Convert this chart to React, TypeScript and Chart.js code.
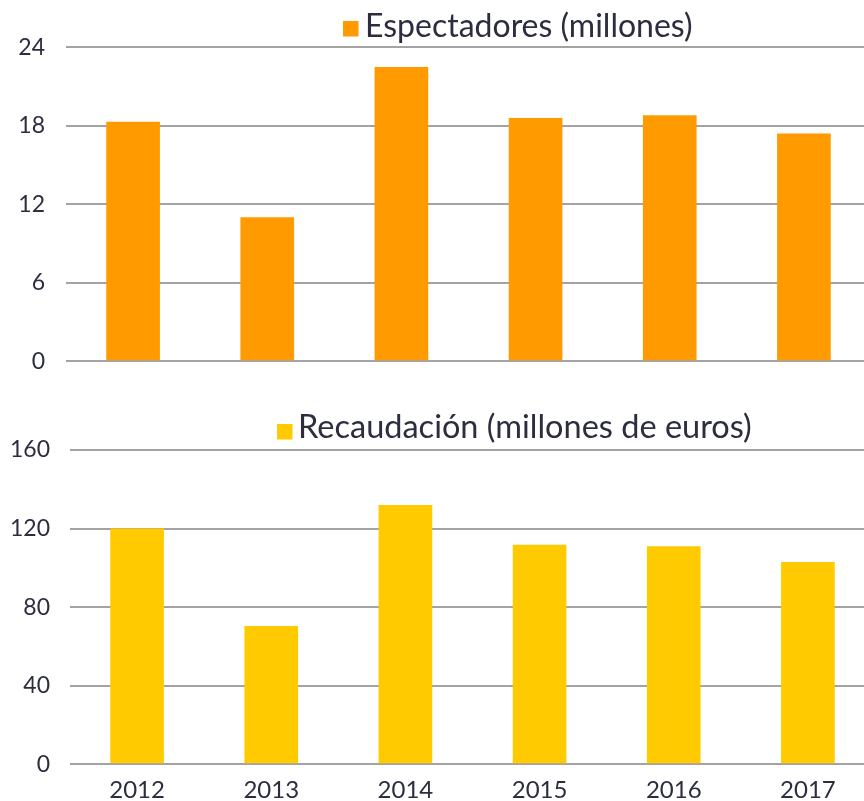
import React, { useEffect, useRef } from "react";
import { Chart, registerables } from "chart.js";

Chart.register(...registerables);

const years = ["2012", "2013", "2014", "2015", "2016", "2017"];
const espectadores = [18.3, 11.0, 22.5, 18.6, 18.8, 17.4];
const recaudacion = [120, 70.4, 132, 111.8, 111, 103];
const espLabel = "Espectadores (millones)";
const recLabel = "Recaudación (millones de euros)";
const espTickStep = 6;
const espMax = 24;
const recTickStep = 40;
const recMax = 160;

const TEXT = "#2c2d3f";
const GRID = "#a3a3a3";
const ORANGE = "#ff9a00";
const YELLOW = "#ffcb00";
const FONT = "Lato";

const legendPlugin = {
  id: "customLegend",
  afterDraw(chart: any, _args: any, opts: any) {
    const ctx = chart.ctx;
    const ds = chart.data.datasets[0];
    ctx.save();
    ctx.fillStyle = ds.backgroundColor;
    ctx.fillRect(opts.x, opts.boxTop, opts.box, opts.box);
    ctx.font = `${opts.size}px ${FONT}`;
    ctx.fillStyle = TEXT;
    ctx.textBaseline = "alphabetic";
    ctx.textAlign = "left";
    ctx.fillText(ds.label, opts.x + opts.box + opts.gap, opts.baseline);
    ctx.restore();
  },
};

function makeConfig(
  label: string,
  values: number[],
  color: string,
  max: number,
  step: number,
  axisWidth: number,
  tickPad: number,
  showX: boolean,
  padTop: number,
  padBottom: number,
  legend: any
): any {
  return {
    type: "bar",
    data: {
      labels: years,
      datasets: [
        {
          label,
          data: values,
          backgroundColor: color,
          borderWidth: 0,
          categoryPercentage: 1,
          barPercentage: 0.4,
        },
      ],
    },
    plugins: [legendPlugin],
    options: {
      responsive: false,
      animation: false,
      devicePixelRatio: 1,
      layout: { padding: { top: padTop, bottom: padBottom, left: 0, right: 0 } },
      plugins: {
        legend: { display: false },
        tooltip: { enabled: false },
        customLegend: legend,
      },
      scales: {
        x: {
          display: showX,
          grid: { display: false, drawTicks: false },
          border: { display: false },
          ticks: {
            color: TEXT,
            font: { family: FONT, size: 24 },
            padding: 12,
            maxRotation: 0,
            autoSkip: false,
          },
          afterFit: (scale: any) => {
            scale.height = showX ? 36.7 : 0;
          },
        },
        y: {
          min: 0,
          max,
          grid: { color: GRID, lineWidth: 2, drawTicks: false },
          border: { display: false },
          ticks: {
            stepSize: step,
            color: TEXT,
            font: { family: FONT, size: 23 },
            padding: tickPad,
          },
          afterFit: (scale: any) => {
            scale.width = axisWidth;
          },
        },
      },
    },
  };
}

export default function App() {
  const topRef = useRef<HTMLCanvasElement>(null);
  const botRef = useRef<HTMLCanvasElement>(null);

  useEffect(() => {
    const top = new Chart(
      topRef.current as HTMLCanvasElement,
      makeConfig(espLabel, espectadores, ORANGE, espMax, espTickStep, 66, 21, false, 47.3, 0, {
        x: 343,
        boxTop: 21,
        box: 15.5,
        gap: 6.5,
        baseline: 37.3,
        size: 32,
      })
    );
    const bot = new Chart(
      botRef.current as HTMLCanvasElement,
      makeConfig(recLabel, recaudacion, YELLOW, recMax, recTickStep, 70, 20, true, 70, 0, {
        x: 277,
        boxTop: 44,
        box: 15.5,
        gap: 5.5,
        baseline: 58.3,
        size: 32.5,
      })
    );
    return () => {
      top.destroy();
      bot.destroy();
    };
  }, []);

  return (
    <div
      style={{
        position: "absolute",
        left: 0,
        top: 0,
        width: 864,
        height: 801,
        overflow: "hidden",
        background: "#ffffff",
      }}
    >
      <canvas ref={topRef} width={871} height={396} style={{ position: "absolute", left: 0, top: 0 }} />
      <canvas ref={botRef} width={875} height={421} style={{ position: "absolute", left: 0, top: 380 }} />
    </div>
  );
}
